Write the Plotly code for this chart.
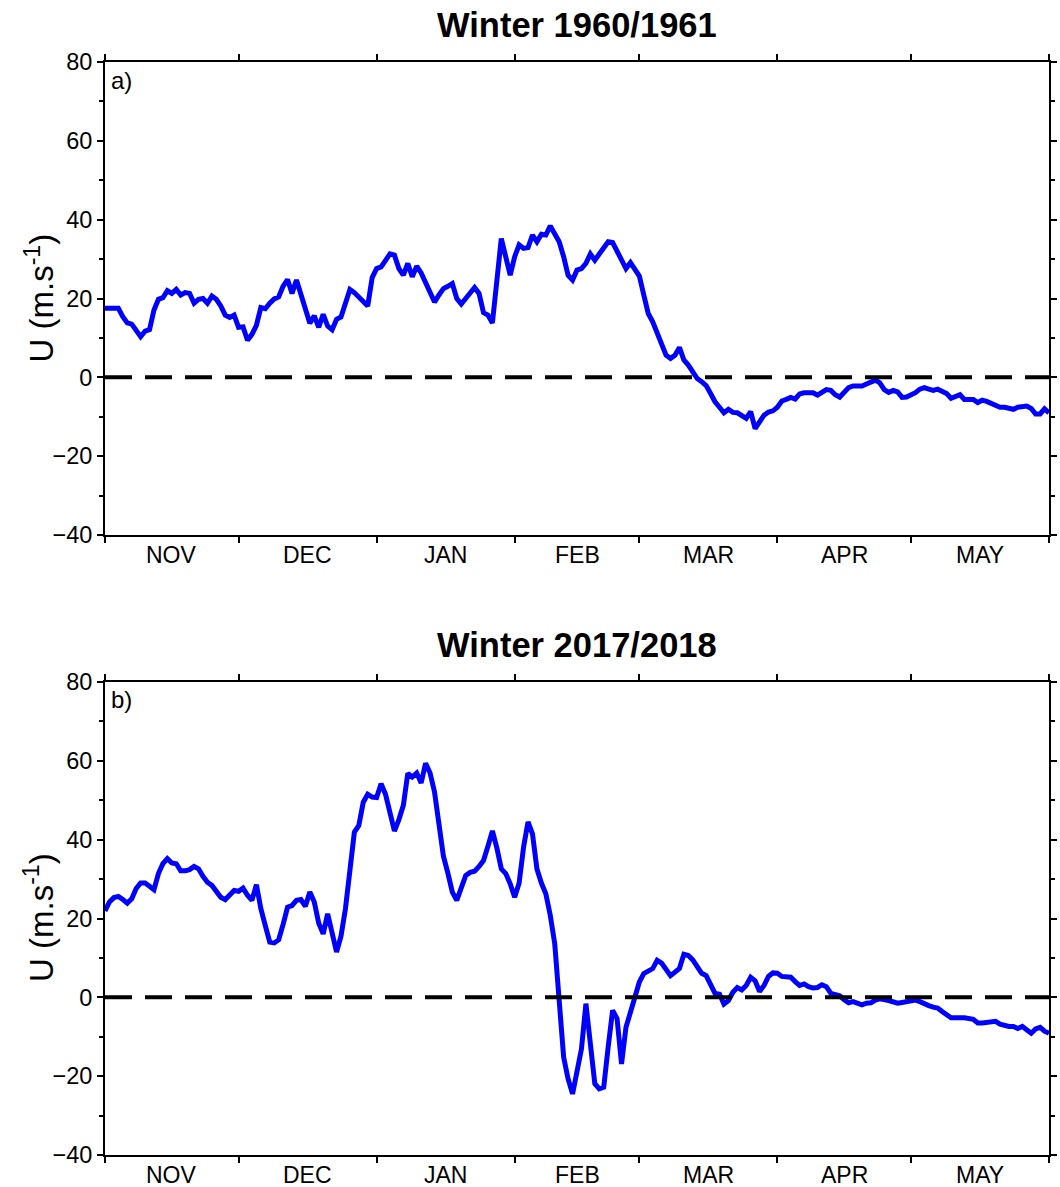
import plotly.graph_objects as go

# ---- calendar (days counted from 1 November) ----
months = ["NOV", "DEC", "JAN", "FEB", "MAR", "APR", "MAY"]
month_days = [30, 31, 31, 28, 31, 30, 31]

# ---- zonal wind U (m/s), winter 1960/1961 ----
day_1960 = [0, 1, 2, 3, 4, 5, 6, 8, 9, 10, 11, 12, 13, 14, 15, 16, 17, 18, 19, 20,
            21, 22, 23, 24, 25, 26, 27, 28, 29, 30, 31, 32, 33, 34, 35, 36, 37, 38, 39, 40,
            41, 42, 43, 44, 45, 46, 47, 48, 49, 50, 51, 52, 53, 54, 55, 56, 57, 58, 59, 60,
            61, 62, 63, 64, 65, 66, 67, 68, 69, 70, 71, 72, 73, 74, 75, 76, 77, 78, 79, 80,
            81, 82, 83, 84, 85, 86, 87, 89, 90, 91, 92, 93, 94, 95, 96, 97, 98, 99, 100,
            101, 102, 103, 104, 105, 106, 107, 108, 109, 110, 111, 112, 113, 114, 115, 116,
            117, 118, 119, 120, 121, 122, 123, 124, 125, 126, 127, 128, 129, 130, 131, 132,
            133, 134, 135, 136, 137, 138, 139, 140, 141, 142, 143, 144, 145, 146, 147, 148,
            149, 150, 151, 152, 153, 154, 155, 156, 157, 158, 159, 160, 161, 162, 163, 164,
            165, 166, 167, 168, 169, 170, 171, 172, 173, 174, 175, 176, 177, 178, 179, 180,
            181, 182, 183, 184, 185, 186, 187, 188, 189, 190, 191, 192, 193, 194, 195, 196,
            197, 198, 199, 200, 201, 202, 203, 204, 205, 206, 207, 208, 209, 210, 211, 212]
u_1960 = [17.5, 17.6, 17.5, 17.5, 15.4, 13.8, 13.5, 10.3, 11.7, 12.1, 17.1, 19.8, 20.2, 22.0,
          21.3, 22.3, 20.9, 21.5, 21.3, 18.8, 19.8, 20.0, 18.8, 20.6, 19.8, 18.1, 15.8, 15.2,
          15.8, 12.7, 12.8, 9.4, 10.9, 13.2, 17.7, 17.4, 18.8, 19.9, 20.4, 23.1, 24.8, 21.3,
          24.7, 20.9, 17.5, 13.7, 15.6, 12.7, 16.0, 13.0, 12.1, 14.7, 15.3, 18.9, 22.3, 21.5,
          20.3, 18.9, 18.1, 25.3, 27.6, 28.0, 29.6, 31.3, 31.0, 27.6, 25.9, 28.9, 25.5, 28.2,
          26.5, 24.2, 21.7, 19.1, 20.9, 22.5, 23.1, 23.8, 20.0, 18.6, 20.0, 21.5, 22.8, 21.3,
          16.4, 15.8, 13.8, 35.2, 31.0, 25.9, 30.6, 33.6, 32.7, 32.9, 36.1, 34.4, 36.3, 36.1,
          38.4, 36.5, 34.4, 30.6, 25.9, 24.7, 27.2, 27.6, 28.9, 31.3, 29.7, 31.3, 32.7, 34.4,
          34.2, 31.9, 29.7, 27.6, 29.1, 27.2, 25.7, 20.9, 16.2, 14.1, 11.5, 8.2, 5.6, 4.8,
          5.6, 7.6, 4.4, 3.1, 1.2, -0.3, -1.1, -2.1, -4.1, -6.2, -7.6, -9.0, -8.1, -8.9,
          -9.0, -9.6, -10.4, -8.7, -13.0, -11.3, -9.6, -8.8, -8.5, -7.6, -6.0, -5.6, -5.1,
          -5.5, -4.2, -3.9, -3.9, -3.9, -4.5, -3.7, -3.1, -3.3, -4.4, -5.0, -3.7, -2.6, -2.2,
          -2.2, -2.2, -1.7, -1.1, -0.7, -1.4, -3.1, -3.8, -3.3, -3.7, -5.1, -5.0, -4.5, -3.9,
          -3.0, -2.6, -3.0, -3.3, -3.0, -3.4, -4.1, -5.3, -4.7, -4.4, -5.6, -5.6, -5.6, -6.4,
          -5.8, -6.1, -6.7, -7.1, -7.6, -7.6, -7.7, -8.1, -7.6, -7.6, -7.3, -7.9, -9.3, -9.3,
          -8.0, -9.0]

# ---- zonal wind U (m/s), winter 2017/2018 ----
day_2017 = [0, 1, 2, 3, 4, 5, 6, 7, 8, 9, 10, 11, 12, 13, 14, 15, 16, 17, 18, 19, 20,
            21, 22, 23, 24, 25, 26, 27, 28, 29, 30, 31, 32, 33, 34, 35, 36, 37, 38, 39, 40,
            41, 42, 43, 44, 45, 46, 47, 48, 49, 50, 51, 52, 53, 54, 55, 56, 57, 58, 59, 60,
            61, 62, 63, 64, 65, 66, 67, 68, 69, 70, 71, 72, 73, 74, 75, 76, 77, 78, 79, 80,
            81, 82, 83, 84, 85, 86, 87, 88, 89, 90, 91, 92, 93, 94, 95, 96, 97, 98, 99, 100,
            101, 103, 104, 105, 106, 107, 108, 109, 110, 111, 112, 113, 114, 115, 116, 117,
            118, 119, 120, 121, 123, 124, 125, 126, 127, 128, 129, 130, 131, 132, 133, 134,
            135, 136, 137, 138, 139, 140, 141, 142, 143, 144, 145, 146, 147, 148, 149, 150,
            151, 152, 154, 155, 156, 157, 158, 159, 160, 161, 162, 163, 164, 165, 166, 167,
            168, 169, 170, 171, 172, 173, 174, 176, 177, 178, 179, 180, 181, 182, 183, 184,
            185, 186, 187, 188, 189, 190, 191, 192, 193, 195, 196, 197, 198, 199, 200, 201,
            202, 203, 204, 205, 206, 207, 208, 209, 210, 211, 212]
u_2017 = [21.9, 24.2, 25.3, 25.6, 24.8, 23.9, 25.0, 27.6, 29.0, 29.0, 28.2, 27.3, 31.4, 33.9,
          35.2, 34.1, 33.9, 32.1, 32.1, 32.4, 33.2, 32.6, 30.7, 29.2, 28.4, 27.1, 25.4, 24.8,
          26.1, 27.1, 26.9, 27.7, 25.9, 24.6, 28.6, 22.5, 18.2, 14.0, 13.8, 14.6, 18.5, 22.9,
          23.3, 24.6, 24.8, 23.1, 26.7, 24.2, 18.8, 16.1, 21.2, 16.3, 11.5, 15.5, 22.5, 32.2,
          41.9, 43.6, 49.5, 51.5, 50.8, 50.7, 54.2, 51.5, 46.6, 42.2, 45.1, 48.7, 56.8, 55.9,
          56.9, 54.4, 59.4, 56.9, 52.1, 43.6, 35.8, 31.5, 26.7, 24.6, 27.9, 30.9, 31.7, 32.0,
          33.2, 34.7, 38.3, 42.2, 37.9, 32.6, 31.4, 28.8, 25.4, 29.0, 38.1, 44.5, 41.5, 32.6,
          29.0, 26.3, 20.8, 13.6, -15.2, -20.7, -24.5, -19.4, -13.1, -1.6, -11.9, -21.9,
          -23.2, -22.8, -12.6, -3.3, -5.4, -16.9, -7.6, -4.2, 0.0, 3.9, 6.0, 7.3, 9.4, 8.7,
          6.8, 5.5, 6.4, 7.3, 10.9, 10.6, 9.5, 7.6, 6.1, 5.5, 3.1, 1.0, 0.8, -1.7, -0.8, 1.3,
          2.5, 1.9, 3.0, 5.1, 4.2, 1.5, 3.0, 5.3, 6.2, 6.1, 5.3, 5.1, 4.0, 3.0, 3.4, 2.7,
          2.4, 2.5, 3.2, 2.7, 1.0, 0.7, 0.4, -0.6, -1.4, -1.1, -1.5, -1.9, -1.5, -1.4, -0.7,
          -0.4, -0.8, -1.0, -1.5, -1.3, -1.1, -1.1, -0.7, -1.1, -1.7, -2.1, -2.5, -2.7, -3.6,
          -4.4, -5.2, -5.2, -5.2, -5.2, -5.6, -6.5, -6.5, -6.3, -6.3, -6.1, -6.8, -7.2, -7.4,
          -7.4, -7.9, -7.4, -8.3, -9.1, -8.0, -7.6, -8.6, -9.1]

panel_titles = ["Winter 1960/1961", "Winter 2017/2018"]
panel_tags = ["a)", "b)"]
y_label = "U (m.s<sup>-1</sup>)"

# month boundaries (tick marks) and mid-month label positions
bounds = [0]
for n in month_days:
    bounds.append(bounds[-1] + n)
mids = [(bounds[i] + bounds[i + 1]) / 2 for i in range(len(month_days))]
x_end = bounds[-1]

W, H = 1060, 1187
ML, MR, MT, MB = 105, 11, 62, 32
plot_h = H - MT - MB
panel_h = 473


def py(px):
    """pixel row -> paper y"""
    return (H - MB - px) / plot_h


def pxx(px):
    """pixel column -> paper x"""
    return (px - ML) / (W - ML - MR)


FONT = "Liberation Sans"
BLUE = "#0000ff"

fig = go.Figure()
series = [(day_1960, u_1960), (day_2017, u_2017)]
for i, (d, u) in enumerate(series):
    xa = "x" if i == 0 else "x2"
    ya = "y" if i == 0 else "y2"
    fig.add_trace(go.Scatter(x=d, y=u, xaxis=xa, yaxis=ya, mode="lines",
                             line=dict(color=BLUE, width=5), showlegend=False,
                             hoverinfo="skip"))
    fig.add_trace(go.Scatter(x=[0, x_end], y=[0, 0], xaxis=xa, yaxis=ya, mode="lines",
                             line=dict(color="black", width=4, dash="27px,13px"),
                             showlegend=False, hoverinfo="skip"))

# month boundary ticks on the x axes; the month names are centred between them
common_x = dict(range=[0, x_end], tickmode="array", tickvals=bounds,
                ticks="outside", ticklen=6, tickwidth=1.5, tickcolor="black",
                showticklabels=False, showline=True, linecolor="black", linewidth=1.8,
                mirror="ticks", showgrid=False, zeroline=False, automargin=False)
common_y = dict(range=[-40, 80], tickmode="array", tickvals=[-40, -20, 0, 20, 40, 60, 80],
                ticks="outside", ticklen=6, tickwidth=1.5, tickcolor="black",
                showline=True, linecolor="black", linewidth=1.8, mirror="ticks",
                showgrid=False, zeroline=False, automargin=False,
                tickfont=dict(family=FONT, size=23.5, color="black"),
                minor=dict(dtick=10, tick0=0, ticks="outside", ticklen=4, tickwidth=1.5,
                           tickcolor="black"))

fig.update_layout(
    width=W, height=H,
    margin=dict(l=ML, r=MR, t=MT, b=MB, autoexpand=False),
    paper_bgcolor="white", plot_bgcolor="white",
    xaxis=dict(common_x, anchor="y", domain=[0, 1]),
    yaxis=dict(common_y, anchor="x", domain=[py(62 + panel_h), 1.0]),
    xaxis2=dict(common_x, anchor="y2", domain=[0, 1]),
    yaxis2=dict(common_y, anchor="x2", domain=[0.0, py(1155 - panel_h)]),
)

annotations = []
title_rows = [25, 645]
tag_rows = [80, 699]
ylab_rows = [298.5, 918]
for i in range(2):
    annotations.append(dict(text="<b>%s</b>" % panel_titles[i], xref="paper", yref="paper",
                            x=0.5, y=py(title_rows[i]), xanchor="center", yanchor="middle",
                            showarrow=False,
                            font=dict(family=FONT, size=34.5, color="black")))
    annotations.append(dict(text=panel_tags[i], xref="paper", yref="paper",
                            x=pxx(109), y=py(tag_rows[i]), xanchor="left", yanchor="middle",
                            showarrow=False,
                            font=dict(family=FONT, size=24, color="black")))
    annotations.append(dict(text=y_label, xref="paper", yref="paper",
                            x=pxx(39), y=py(ylab_rows[i]), xanchor="center",
                            yanchor="middle", textangle=-90, showarrow=False,
                            font=dict(family=FONT, size=33, color="black")))
    xr = "x" if i == 0 else "x2"
    yr = "y domain" if i == 0 else "y2 domain"
    for m, xm in zip(months, mids):
        annotations.append(dict(text=m, xref=xr, yref=yr, x=xm, y=-0.043,
                                xanchor="center", yanchor="middle", showarrow=False,
                                borderpad=0,
                                font=dict(family=FONT, size=23, color="black")))
fig.update_layout(annotations=annotations)

fig.write_html("out.html")
